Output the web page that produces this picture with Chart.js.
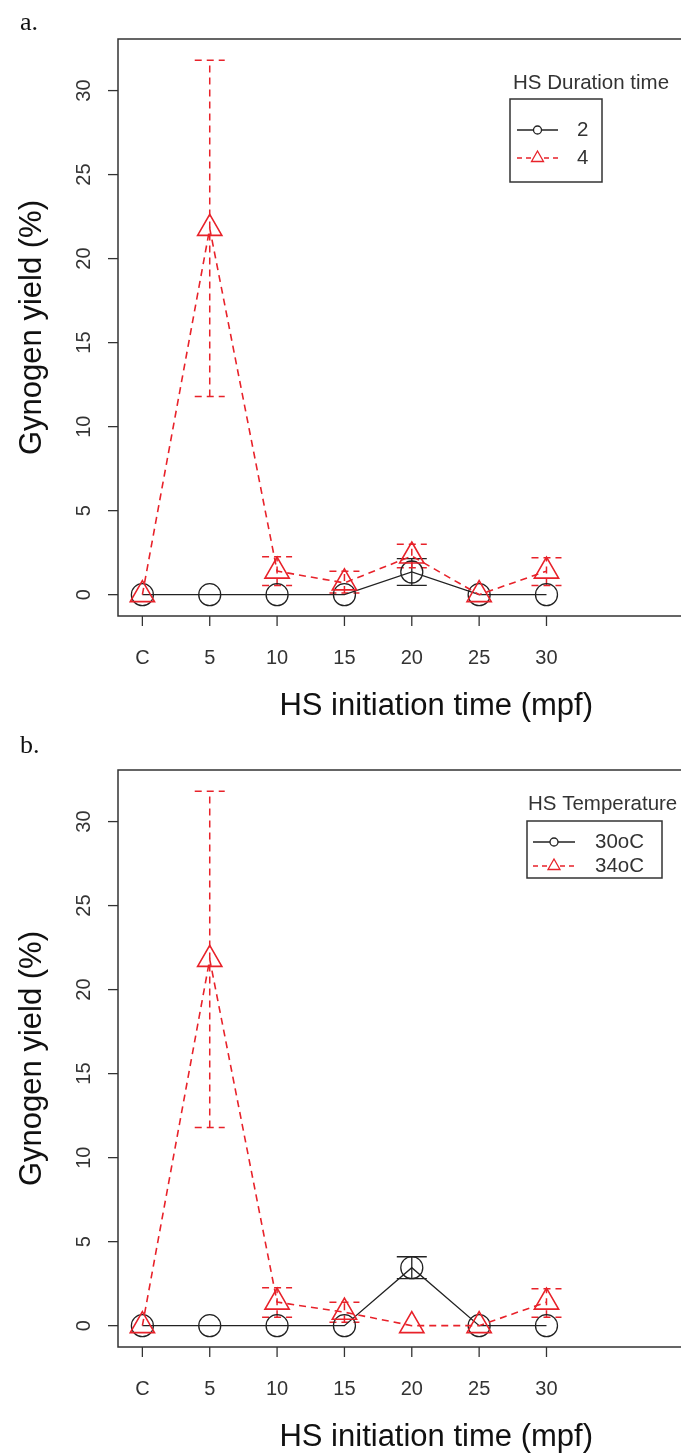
<!DOCTYPE html>
<html>
<head>
<meta charset="utf-8">
<script src="https://cdn.jsdelivr.net/npm/chart.js@4.4.1/dist/chart.umd.min.js"></script>
<style>
  html, body { margin: 0; padding: 0; background: #fff; }
  body { width: 681px; height: 1456px; overflow: hidden; position: relative; }
  .panel { position: absolute; left: 0; width: 681px; overflow: hidden; }
  #pa { top: 0; height: 731px; }
  #pb { top: 731px; height: 725px; }
  canvas { display: block; }
</style>
</head>
<body>
<div class="panel" id="pa"><canvas id="chartA" width="770" height="731"></canvas></div>
<div class="panel" id="pb"><canvas id="chartB" width="770" height="725"></canvas></div>
<script>
// ── Data ───────────────────────────────────────────────────
const xLabels = ["C", "5", "10", "15", "20", "25", "30"];
const xPos    = [1, 2, 3, 4, 5, 6, 7];
const yTicks  = [0, 5, 10, 15, 20, 25, 30];

// panel a: HS duration time
const dur2     = [0, 0, 0, 0, 1.35, 0, 0];
const dur2Low  = [0, 0, 0, 0, 0.55, 0, 0];
const dur2High = [0, 0, 0, 0, 2.15, 0, 0];
const dur4     = [0, 21.8, 1.4, 0.7, 2.3, 0, 1.4];
const dur4Low  = [0, 11.8, 0.55, 0.1, 1.6, 0, 0.55];
const dur4High = [0, 31.8, 2.25, 1.4, 3.0, 0, 2.2];

// panel b: HS temperature
const temp30     = [0, 0, 0, 0, 3.45, 0, 0];
const temp30Low  = [0, 0, 0, 0, 2.8, 0, 0];
const temp30High = [0, 0, 0, 0, 4.1, 0, 0];
const temp34     = [0, 21.8, 1.4, 0.8, 0, 0, 1.4];
const temp34Low  = [0, 11.8, 0.5, 0.2, 0, 0, 0.5];
const temp34High = [0, 31.8, 2.25, 1.4, 0, 0, 2.2];

// ── Styles ─────────────────────────────────────────────────
const BLACK = "#222";
const RED   = "#e8222a";
const AXIS  = "#333";
const SANS  = "'Liberation Sans', Arial, sans-serif";
const DASH  = [7, 5];

function pts(vals) {
  return xPos.map((x, i) => ({ x, y: vals[i] }));
}

// draws the R-style frame, axes, error bars and legend
function decor(cfg) {
  return {
    id: "decor",
    beforeDatasetsDraw(chart) {
      const { ctx, scales: { x: xs, y: ys } } = chart;
      ctx.save();
      cfg.errors.forEach((e) => {
        ctx.strokeStyle = e.color;
        ctx.lineWidth = e.width;
        ctx.setLineDash(e.dash);
        e.low.forEach((lo, i) => {
          const hi = e.high[i];
          if (hi - lo < 1e-6) return;
          const px = xs.getPixelForValue(xPos[i]);
          const yl = ys.getPixelForValue(lo);
          const yh = ys.getPixelForValue(hi);
          ctx.beginPath();
          ctx.moveTo(px, yl); ctx.lineTo(px, yh);
          ctx.moveTo(px - e.cap, yl); ctx.lineTo(px + e.cap, yl);
          ctx.moveTo(px - e.cap, yh); ctx.lineTo(px + e.cap, yh);
          ctx.stroke();
        });
      });
      ctx.restore();
    },
    afterDraw(chart) {
      const { ctx, chartArea: a, scales: { x: xs, y: ys } } = chart;
      ctx.save();
      ctx.strokeStyle = AXIS;
      ctx.lineWidth = 1.5;
      ctx.strokeRect(a.left, a.top, a.right - a.left, a.bottom - a.top);

      ctx.fillStyle = AXIS;
      ctx.lineWidth = 1.3;
      // y axis
      ctx.font = "20px " + SANS;
      ctx.textAlign = "center";
      ctx.textBaseline = "middle";
      yTicks.forEach((v) => {
        const py = ys.getPixelForValue(v);
        ctx.beginPath();
        ctx.moveTo(a.left - 10, py); ctx.lineTo(a.left, py);
        ctx.stroke();
        ctx.save();
        ctx.translate(a.left - 34, py);
        ctx.rotate(-Math.PI / 2);
        ctx.fillText(String(v), 0, 0);
        ctx.restore();
      });
      // x axis
      xPos.forEach((v, i) => {
        const px = xs.getPixelForValue(v);
        ctx.beginPath();
        ctx.moveTo(px, a.bottom); ctx.lineTo(px, a.bottom + 10);
        ctx.stroke();
        ctx.fillText(xLabels[i], px, a.bottom + 42);
      });
      // titles
      ctx.fillStyle = "#111";
      ctx.font = "31px " + SANS;
      ctx.fillText("HS initiation time (mpf)", (a.left + a.right) / 2, a.bottom + 90);
      ctx.save();
      ctx.translate(32, (a.top + a.bottom) / 2);
      ctx.rotate(-Math.PI / 2);
      ctx.fillText("Gynogen yield (%)", 0, 0);
      ctx.restore();

      // panel letter
      ctx.font = "26px 'Liberation Serif', 'Times New Roman', serif";
      ctx.textAlign = "left";
      ctx.textBaseline = "alphabetic";
      ctx.fillText(cfg.letter, 20, cfg.letterY);

      // legend
      const L = cfg.legend;
      ctx.font = "20.5px " + SANS;
      ctx.fillStyle = AXIS;
      ctx.textBaseline = "middle";
      ctx.fillText(L.title, L.titleX, L.titleY);
      ctx.strokeStyle = AXIS;
      ctx.lineWidth = 1.5;
      ctx.strokeRect(L.box[0], L.box[1], L.box[2] - L.box[0], L.box[3] - L.box[1]);
      L.items.forEach((it, k) => {
        const ly = L.rows[k];
        ctx.strokeStyle = it.color;
        ctx.lineWidth = 1.3;
        ctx.setLineDash(it.dash);
        ctx.beginPath();
        ctx.moveTo(L.lineX[0], ly); ctx.lineTo(L.lineX[1], ly);
        ctx.stroke();
        ctx.setLineDash([]);
        const mx = (L.lineX[0] + L.lineX[1]) / 2;
        ctx.fillStyle = "#fff";
        ctx.beginPath();
        if (it.shape === "circle") {
          ctx.arc(mx, ly, 4, 0, Math.PI * 2);
        } else {
          ctx.moveTo(mx, ly - 7);
          ctx.lineTo(mx + 6, ly + 3.5);
          ctx.lineTo(mx - 6, ly + 3.5);
          ctx.closePath();
        }
        ctx.fill();
        ctx.stroke();
        ctx.fillStyle = AXIS;
        ctx.fillText(it.label, L.textX, ly);
      });
      ctx.restore();
    },
  };
}

function makePanel(id, height, cfg) {
  const s1 = {
    data: pts(cfg.v1),
    borderColor: BLACK,
    borderWidth: 1.3,
    pointStyle: "circle",
    pointRadius: 11,
    pointBorderWidth: 1.3,
    pointBorderColor: BLACK,
    pointBackgroundColor: "rgba(0,0,0,0)",
    order: 2,
  };
  const s2 = {
    data: pts(cfg.v2),
    borderColor: RED,
    borderWidth: 1.6,
    borderDash: DASH,
    pointStyle: "triangle",
    pointRadius: 14,
    pointBorderWidth: 1.6,
    pointBorderColor: RED,
    pointBackgroundColor: "rgba(0,0,0,0)",
    order: 1,
  };
  return new Chart(document.getElementById(id), {
    type: "line",
    data: { datasets: [s1, s2] },
    options: {
      responsive: false,
      animation: false,
      events: [],
      layout: { padding: { left: 118, top: 39, right: 0, bottom: height - 616 } },
      scales: {
        x: { type: "linear", display: false, min: 0.638, max: 10.087 },
        y: { type: "linear", display: false, min: -1.27, max: 33.07 },
      },
      plugins: { legend: { display: false }, tooltip: { enabled: false } },
    },
    plugins: [decor(cfg)],
  });
}

makePanel("chartA", 731, {
  letter: "a.", letterY: 30,
  v1: dur2, v2: dur4,
  errors: [
    { low: dur2Low, high: dur2High, color: BLACK, dash: [], width: 1.3, cap: 15 },
    { low: dur4Low, high: dur4High, color: RED, dash: DASH, width: 1.5, cap: 15 },
  ],
  legend: {
    title: "HS Duration time", titleX: 513, titleY: 83,
    box: [510, 99, 602, 182],
    rows: [130, 158],
    lineX: [517, 558], textX: 577,
    items: [
      { label: "2", color: BLACK, dash: [], shape: "circle" },
      { label: "4", color: RED, dash: [5, 4], shape: "triangle" },
    ],
  },
});

makePanel("chartB", 725, {
  letter: "b.", letterY: 22,
  v1: temp30, v2: temp34,
  errors: [
    { low: temp30Low, high: temp30High, color: BLACK, dash: [], width: 1.3, cap: 15 },
    { low: temp34Low, high: temp34High, color: RED, dash: DASH, width: 1.5, cap: 15 },
  ],
  legend: {
    title: "HS Temperature", titleX: 528, titleY: 73,
    box: [527, 90, 662, 147],
    rows: [111, 135],
    lineX: [533, 575], textX: 595,
    items: [
      { label: "30oC", color: BLACK, dash: [], shape: "circle" },
      { label: "34oC", color: RED, dash: [5, 4], shape: "triangle" },
    ],
  },
});
</script>
</body>
</html>
